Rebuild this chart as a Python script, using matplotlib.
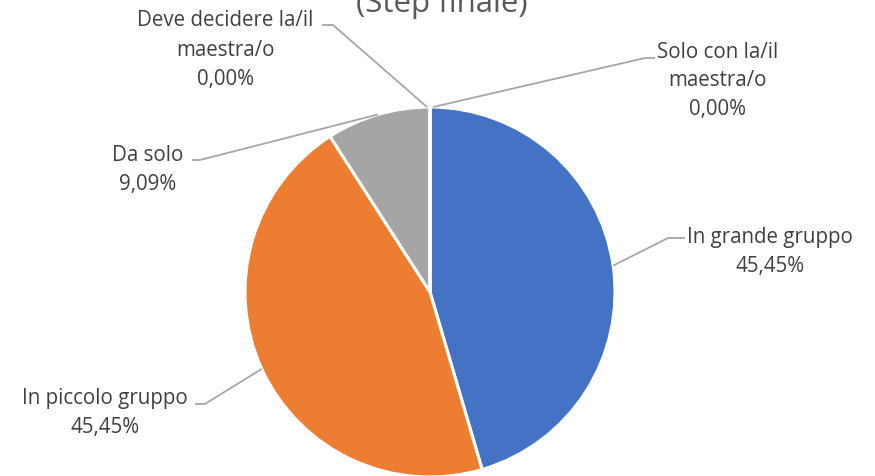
import matplotlib
matplotlib.use("Agg")
import matplotlib.pyplot as plt
import numpy as np

categories = ["In grande gruppo", "In piccolo gruppo", "Da solo",
              "Deve decidere la/il\nmaestra/o", "Solo con la/il\nmaestra/o"]
values = [45.45, 45.45, 9.09, 0.0, 0.0]
pct_labels = ["45,45%", "45,45%", "9,09%", "0,00%", "0,00%"]
colors = ["#4472C4", "#ED7D31", "#A5A5A5", "#FFC000", "#5B9BD5"]
title = "(Step finale)"

W, H = 875, 476
plt.rcParams['font.family'] = ['Open Sans', 'DejaVu Sans']
fig = plt.figure(figsize=(W / 100, H / 100), dpi=100)
ax = fig.add_axes([0, 0, 1, 1])

cx, cy, R = 430, H - 292, 185
wedges, _ = ax.pie(values, colors=colors, startangle=90, counterclock=False,
                   center=(cx, cy), radius=R, frame=True,
                   wedgeprops=dict(edgecolor="white", linewidth=2.2))
ax.set_xlim(0, W)
ax.set_ylim(0, H)
ax.set_aspect("equal")
ax.axis("off")

# label layout (pixel coords from top): text center, elbow point, line end
layout = [
    dict(text=(770, 252), elbow=(668, 238), end=(685, 238), dx=0),
    dict(text=(105, 413), elbow=(205, 404), end=(195, 404), dx=0),
    dict(text=(148, 170), elbow=(200, 160), end=(192, 160), dx=0),
    dict(text=(225, 50), elbow=(333, 25), end=(322, 25), dx=-3),
    dict(text=(718, 81), elbow=(645, 58), end=(655, 58), dx=3),
]

text_color = "#404040"
line_color = "#A6A6A6"
for w, cat, pl, lay in zip(wedges, categories, pct_labels, layout):
    ang = np.deg2rad((w.theta1 + w.theta2) / 2)
    ex = cx + R * np.cos(ang) + lay["dx"]
    ey = cy + R * np.sin(ang)
    bx, by = lay["elbow"]
    fx, fy = lay["end"]
    ax.plot([ex, bx, fx], [ey, H - by, H - fy], color=line_color, lw=1.3,
            solid_capstyle="butt", zorder=1)
    tx, ty = lay["text"]
    ax.text(tx, H - ty, cat + "\n" + pl, ha="center", va="center",
            fontsize=14.8, color=text_color, linespacing=1.5)

ax.text(442, H - 12, title, ha="center", va="baseline", fontsize=22.5,
        color="#595959")

fig.savefig("out.png", dpi=100)
